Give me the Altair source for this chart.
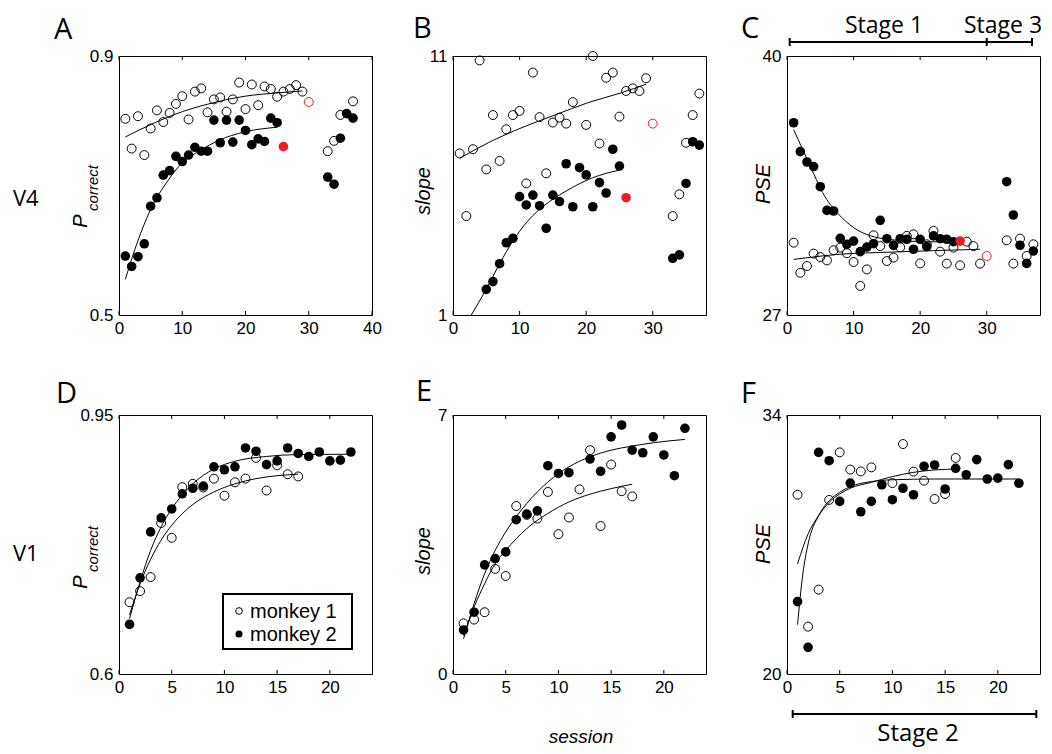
import altair as alt
import pandas as pd

FONT_T = "Liberation Sans"
FONT_L = "Open Sans"
RED = "#ed1c24"
W, H = 253, 259

# ---------------- data ----------------
# Panel A : V4, P correct
A_m1_s = list(range(1, 30)) + [33, 34, 35, 37]
A_m1_v = [0.803, 0.757, 0.807, 0.747, 0.788, 0.816, 0.798, 0.812, 0.826, 0.838,
          0.802, 0.845, 0.850, 0.813, 0.833, 0.836, 0.814, 0.833, 0.859, 0.818,
          0.856, 0.824, 0.853, 0.849, 0.837, 0.845, 0.849, 0.855, 0.845,
          0.753, 0.769, 0.809, 0.830]
A_m1_red_s = [30]
A_m1_red_v = [0.829]
A_m2_s = list(range(1, 26)) + [33, 34, 35, 36, 37]
A_m2_v = [0.591, 0.575, 0.590, 0.610, 0.668, 0.681, 0.716, 0.723, 0.745, 0.737,
          0.747, 0.759, 0.753, 0.753, 0.801, 0.766, 0.801, 0.767, 0.801, 0.785,
          0.763, 0.772, 0.768, 0.804, 0.797,
          0.713, 0.702, 0.773, 0.811, 0.804]
A_m2_red_s = [26]
A_m2_red_v = [0.760]
A_fit1_s = [1, 5, 10, 15, 20, 25, 29]
A_fit1_v = [0.775, 0.794, 0.814, 0.828, 0.838, 0.843, 0.846]
A_fit2_s = [1, 2.5, 5, 7.7, 10, 13, 15.6, 20, 25]
A_fit2_v = [0.555, 0.601, 0.663, 0.707, 0.735, 0.755, 0.769, 0.783, 0.790]

# Panel B : V4, slope
B_m1_s = list(range(1, 19)) + list(range(20, 30)) + [33, 34, 35, 36, 37]
B_m1_v = [7.24, 4.82, 7.40, 10.83, 6.62, 8.72, 6.95, 8.17, 8.72, 8.88,
          6.08, 10.36, 8.64, 6.47, 8.43, 8.62, 8.39, 9.22,
          8.34, 11.0, 7.62, 10.16, 10.36, 8.66, 9.65, 9.75, 9.65, 10.14,
          4.82, 5.66, 7.65, 8.72, 9.55]
B_m1_red_s = [30]
B_m1_red_v = [8.39]
B_m2_s = list(range(5, 26)) + [33, 34, 35, 36, 37]
B_m2_v = [1.99, 2.29, 2.98, 3.79, 3.96, 5.57, 5.25, 5.63, 5.22, 4.35,
          5.63, 5.38, 6.84, 5.18, 6.69, 6.41, 5.18, 6.11, 5.71, 7.40, 6.75,
          3.19, 3.32, 6.08, 7.69, 7.56]
B_m2_red_s = [26]
B_m2_red_v = [5.53]
B_fit1_s = [1, 5.3, 10.3, 15.3, 20.3, 25.3, 29]
B_fit1_v = [7.05, 7.65, 8.23, 8.72, 9.20, 9.58, 9.91]
B_fit2_s = [2.75, 5, 7, 9, 11, 13, 15, 17, 19, 21, 23, 25]
B_fit2_v = [1.0, 2.0, 2.98, 3.86, 4.56, 5.08, 5.47, 5.79, 6.07, 6.30, 6.47, 6.59]

# Panel C : V4, PSE
C_m1_s = list(range(1, 30)) + [33, 34, 35, 36, 37]
C_m1_v = [30.63, 29.12, 29.46, 30.08, 29.91, 29.74, 30.25, 30.38, 30.10, 29.66,
          28.46, 29.29, 31.00, 30.46, 29.71, 29.88, 30.40, 30.97, 31.05, 29.59,
          30.55, 31.22, 30.18, 29.58, 30.38, 29.49, 30.68, 30.46, 29.58,
          30.75, 29.58, 30.83, 29.96, 30.55]
C_m1_red_s = [30]
C_m1_red_v = [29.96]
C_m2_s = list(range(1, 26)) + [33, 34, 35, 36, 37]
C_m2_v = [36.65, 35.20, 34.68, 34.45, 33.44, 32.25, 32.22, 30.85, 30.55, 30.71,
          30.18, 30.41, 30.58, 31.75, 30.83, 30.50, 30.83, 30.80, 30.30, 30.80,
          30.43, 30.97, 30.83, 30.80, 30.68,
          33.69, 32.02, 30.50, 29.59, 30.21]
C_m2_red_s = [26]
C_m2_red_v = [30.71]
C_fit1_s = [1, 8, 15, 22, 29]
C_fit1_v = [29.79, 30.05, 30.15, 30.23, 30.30]
C_fit2_s = [1, 3.15, 5.65, 8.15, 10.65, 13.15, 15.65, 18.15, 20.65, 23.15, 25]
C_fit2_v = [36.30, 34.73, 32.97, 31.92, 31.25, 30.92, 30.78, 30.71, 30.68, 30.67, 30.67]

# Panel D : V1, P correct
D_m1_s = list(range(1, 18))
D_m1_v = [0.697, 0.712, 0.731, 0.804, 0.784, 0.8525, 0.857, 0.852, 0.864, 0.841,
          0.859, 0.864, 0.892, 0.848, 0.882, 0.870, 0.867]
D_m2_s = list(range(1, 23))
D_m2_v = [0.667, 0.730, 0.792, 0.811, 0.823, 0.8435, 0.851, 0.854, 0.880, 0.876,
          0.880, 0.9055, 0.901, 0.883, 0.888, 0.9055, 0.898, 0.894, 0.900, 0.888,
          0.889, 0.900]
D_fit1_s = [1, 2, 3, 4, 5, 7, 9, 11, 13, 15, 17]
D_fit1_v = [0.680, 0.722, 0.755, 0.781, 0.801, 0.829, 0.846, 0.857, 0.864, 0.868, 0.870]
D_fit2_s = [1, 2, 3, 4, 5, 7, 9, 11, 14, 17, 22]
D_fit2_v = [0.675, 0.7245, 0.767, 0.799, 0.823, 0.857, 0.877, 0.8875, 0.894, 0.8965, 0.897]

# Panel E : V1, slope
E_m1_s = list(range(1, 18))
E_m1_v = [1.37, 1.47, 1.67, 2.84, 2.65, 4.54, 4.30, 4.20, 4.92, 3.78,
          4.23, 4.99, 6.05, 4.00, 5.66, 4.94, 4.80]
E_m2_s = list(range(1, 12)) + list(range(13, 23))
E_m2_v = [1.19, 1.67, 2.95, 3.12, 3.30, 4.17, 4.32, 4.41, 5.63, 5.42, 5.44,
          5.81, 5.48, 6.41, 6.73, 6.05, 5.98, 6.41, 5.92, 5.36, 6.64]
E_fit1_s = [1, 2, 3, 4, 5, 7, 9, 11, 13, 15, 17]
E_fit1_v = [1.04, 1.81, 2.44, 2.98, 3.34, 3.93, 4.34, 4.65, 4.86, 5.01, 5.13]
E_fit2_s = [1, 2, 3, 4, 5, 7, 9, 11, 13, 15, 17, 19, 22]
E_fit2_v = [0.95, 1.90, 2.71, 3.34, 3.84, 4.61, 5.19, 5.60, 5.87, 6.05, 6.16, 6.25, 6.34]

# Panel F : V1, PSE
F_m1_s = list(range(1, 9)) + list(range(10, 17))
F_m1_v = [29.69, 22.56, 24.56, 29.41, 31.98, 31.05, 30.95, 31.17,
          30.32, 32.43, 30.94, 30.45, 29.46, 29.73, 31.68]
F_m2_s = list(range(1, 23))
F_m2_v = [23.91, 21.44, 31.98, 31.53, 29.33, 30.32, 28.77, 29.33, 30.23, 29.42,
          30.04, 29.69, 31.23, 31.30, 30.00, 31.12, 30.77, 31.59, 30.54, 30.59,
          31.32, 30.31]
F_fit1_s = [1, 2, 3, 4, 5, 6, 8, 10, 12, 14, 16]
F_fit1_v = [25.95, 27.57, 28.56, 29.28, 29.73, 30.04, 30.36, 30.67, 30.90, 31.03, 31.08]
F_fit2_s = [1, 1.5, 2, 3, 4, 5, 6, 8, 10, 14, 22]
F_fit2_v = [22.67, 25.40, 27.03, 28.56, 29.37, 29.82, 30.13, 30.40, 30.50, 30.54, 30.54]

# axis ticks / domains
A_xdom, A_ydom, A_xticks, A_yticks = [0, 40], [0.5, 0.9], [0, 10, 20, 30, 40], [0.5, 0.9]
B_xdom, B_ydom, B_xticks, B_yticks = [0, 38], [1, 11], [0, 10, 20, 30], [1, 11]
C_xdom, C_ydom, C_xticks, C_yticks = [0, 38], [27, 40], [0, 10, 20, 30], [27, 40]
D_xdom, D_ydom, D_xticks, D_yticks = [0, 24], [0.6, 0.95], [0, 5, 10, 15, 20], [0.6, 0.95]
E_xdom, E_ydom, E_xticks, E_yticks = [0, 24], [0, 7], [0, 5, 10, 15, 20], [0, 7]
F_xdom, F_ydom, F_xticks, F_yticks = [0, 24], [20, 34], [0, 5, 10, 15, 20], [20, 34]

# stage boundaries (sessions)
stage_top_bounds = [0.4, 30, 36.8]
stage_bot_bounds = [0.54, 23.65]
legend_labels = ["monkey 1", "monkey 2"]

ONE = pd.DataFrame({"k": [0]})


def label(text, x, y, size, font=FONT_T, style="normal", angle=0,
          align="left", baseline="alphabetic"):
    return alt.Chart(ONE).mark_text(
        text=text, font=font, fontSize=size, fontStyle=style, angle=angle,
        align=align, baseline=baseline, color="black"
    ).encode(x=alt.value(x), y=alt.value(y))


def panel(xdom, ydom, xticks, yticks, m1s, m1v, m2s, m2v, f1s, f1v, f2s, f2v,
          r1s=None, r1v=None, r2s=None, r2v=None):
    xsc = alt.Scale(domain=xdom, nice=False, zero=False)
    ysc = alt.Scale(domain=ydom, nice=False, zero=False)
    xax = alt.Axis(values=xticks, ticks=False, domain=False, grid=False, title=None,
                   labelFontSize=17, labelPadding=5, labelFlush=False, format=".2~f",
                   labelOverlap=False, labelFont=FONT_T, labelColor="black")
    yax = alt.Axis(values=yticks, ticks=False, domain=False, grid=False, title=None,
                   labelFontSize=17, labelPadding=6, labelFlush=False, format=".2~f",
                   labelOverlap=False, labelFont=FONT_T, labelColor="black")
    X = alt.X("s:Q", scale=xsc, axis=xax)
    Y = alt.Y("v:Q", scale=ysc, axis=yax)
    layers = []
    layers.append(alt.Chart(pd.DataFrame({"s": m1s, "v": m1v})).mark_point(
        shape="circle", filled=False, color="black", strokeWidth=1, size=80, opacity=1
    ).encode(x=X, y=Y))
    fit_df = pd.DataFrame({"s": f1s + f2s, "v": f1v + f2v,
                           "g": ["m1"] * len(f1s) + ["m2"] * len(f2s)})
    layers.append(alt.Chart(fit_df).mark_line(
        color="black", strokeWidth=1, interpolate="monotone"
    ).encode(x=X, y=Y, detail="g:N"))
    layers.append(alt.Chart(pd.DataFrame({"s": m2s, "v": m2v})).mark_circle(
        color="black", size=92, opacity=1
    ).encode(x=X, y=Y))
    if r1s:
        layers.append(alt.Chart(pd.DataFrame({"s": r1s, "v": r1v})).mark_point(
            shape="circle", filled=False, color=RED, strokeWidth=1, size=80, opacity=1
        ).encode(x=X, y=Y))
    if r2s:
        layers.append(alt.Chart(pd.DataFrame({"s": r2s, "v": r2v})).mark_circle(
            color=RED, size=92, opacity=1
        ).encode(x=X, y=Y))
    tick_df = pd.DataFrame({"s": xticks})
    layers.append(alt.Chart(tick_df).mark_rule(color="black", strokeWidth=1).encode(
        x=X, y=alt.value(H), y2=alt.value(H - 4)))
    layers.append(alt.Chart(tick_df).mark_rule(color="black", strokeWidth=1).encode(
        x=X, y=alt.value(0), y2=alt.value(4)))
    return layers, X


# ---------------- panels ----------------
la, _ = panel(A_xdom, A_ydom, A_xticks, A_yticks, A_m1_s, A_m1_v, A_m2_s, A_m2_v,
              A_fit1_s, A_fit1_v, A_fit2_s, A_fit2_v,
              A_m1_red_s, A_m1_red_v, A_m2_red_s, A_m2_red_v)
la.append(alt.Chart(ONE).mark_rect(opacity=0).encode(
    x=alt.value(-110), x2=alt.value(0), y=alt.value(-47), y2=alt.value(0)))
la += [label("A", -65, -17, 29, FONT_L),
       label("V4", -106, 150, 22, FONT_L),
       label("P", -38, 165, 20, style="italic", angle=270, align="center", baseline="middle"),
       label("correct", -26, 132, 15, style="italic", angle=270, align="center", baseline="middle")]
chart_A = alt.layer(*la).properties(width=W, height=H)

lb, _ = panel(B_xdom, B_ydom, B_xticks, B_yticks, B_m1_s, B_m1_v, B_m2_s, B_m2_v,
              B_fit1_s, B_fit1_v, B_fit2_s, B_fit2_v,
              B_m1_red_s, B_m1_red_v, B_m2_red_s, B_m2_red_v)
lb += [label("B", -40, -18, 29, FONT_L),
       label("slope", -29, 135, 20, style="italic", angle=270, align="center", baseline="middle")]
chart_B = alt.layer(*lb).properties(width=W, height=H)

lc, XC = panel(C_xdom, C_ydom, C_xticks, C_yticks, C_m1_s, C_m1_v, C_m2_s, C_m2_v,
               C_fit1_s, C_fit1_v, C_fit2_s, C_fit2_v,
               C_m1_red_s, C_m1_red_v, C_m2_red_s, C_m2_red_v)
seg_top = pd.DataFrame({"s": [stage_top_bounds[0]], "s2": [stage_top_bounds[-1]]})
lc.append(alt.Chart(seg_top).mark_rule(color="black", strokeWidth=2).encode(
    x=XC, x2="s2:Q", y=alt.value(-14)))
lc.append(alt.Chart(pd.DataFrame({"s": stage_top_bounds})).mark_rule(
    color="black", strokeWidth=2).encode(x=XC, y=alt.value(-18), y2=alt.value(-10)))
lc += [label("C", -46, -18, 29, FONT_L),
       label("PSE", -23, 128, 20, style="italic", angle=270, align="center", baseline="middle"),
       label("Stage 1", 97, -23, 23, FONT_L, align="center"),
       label("Stage 3", 216, -23, 23, FONT_L, align="center")]
chart_C = alt.layer(*lc).properties(width=W, height=H)

ld, _ = panel(D_xdom, D_ydom, D_xticks, D_yticks, D_m1_s, D_m1_v, D_m2_s, D_m2_v,
              D_fit1_s, D_fit1_v, D_fit2_s, D_fit2_v)
ld.append(alt.Chart(ONE).mark_rect(fill="white", stroke="black", strokeWidth=2).encode(
    x=alt.value(104), x2=alt.value(233), y=alt.value(179), y2=alt.value(234)))
ld.append(alt.Chart(ONE).mark_point(shape="circle", filled=False, color="black",
                                    strokeWidth=1, size=45, opacity=1).encode(
    x=alt.value(120), y=alt.value(196)))
ld.append(alt.Chart(ONE).mark_circle(color="black", size=50, opacity=1).encode(
    x=alt.value(120), y=alt.value(219)))
ld += [label(legend_labels[0], 131, 197, 20, baseline="middle"),
       label(legend_labels[1], 131, 220, 20, baseline="middle"),
       label("D", -63, -12, 29, FONT_L),
       label("V1", -106, 146, 22, FONT_L),
       label("P", -38, 167, 20, style="italic", angle=270, align="center", baseline="middle"),
       label("correct", -26, 134, 15, style="italic", angle=270, align="center", baseline="middle")]
chart_D = alt.layer(*ld).properties(width=W, height=H)

le, _ = panel(E_xdom, E_ydom, E_xticks, E_yticks, E_m1_s, E_m1_v, E_m2_s, E_m2_v,
              E_fit1_s, E_fit1_v, E_fit2_s, E_fit2_v)
le += [label("E", -37, -14, 29, FONT_L),
       label("slope", -29, 136, 20, style="italic", angle=270, align="center", baseline="middle"),
       label("session", 128, 328, 19, style="italic", align="center")]
chart_E = alt.layer(*le).properties(width=W, height=H)

lf, XF = panel(F_xdom, F_ydom, F_xticks, F_yticks, F_m1_s, F_m1_v, F_m2_s, F_m2_v,
               F_fit1_s, F_fit1_v, F_fit2_s, F_fit2_v)
seg_bot = pd.DataFrame({"s": [stage_bot_bounds[0]], "s2": [stage_bot_bounds[-1]]})
lf.append(alt.Chart(seg_bot).mark_rule(color="black", strokeWidth=2).encode(
    x=XF, x2="s2:Q", y=alt.value(299)))
lf.append(alt.Chart(pd.DataFrame({"s": stage_bot_bounds})).mark_rule(
    color="black", strokeWidth=2).encode(x=XF, y=alt.value(295), y2=alt.value(303)))
lf += [label("F", -46, -12, 29, FONT_L),
       label("PSE", -23, 129, 20, style="italic", angle=270, align="center", baseline="middle"),
       label("Stage 2", 131, 326, 24, FONT_L, align="center")]
chart_F = alt.layer(*lf).properties(width=W, height=H)

chart = alt.concat(
    chart_A, chart_B, chart_C, chart_D, chart_E, chart_F,
    columns=3, spacing={"row": 100, "column": 81}, bounds="flush"
).properties(
    padding={"left": 0, "right": 0, "top": 0, "bottom": 0}
).configure_view(stroke="black", strokeWidth=1).configure_axis(
    labelFont=FONT_T, labelColor="black")

chart.save("out.html", embed_options={"renderer": "svg", "actions": False})
